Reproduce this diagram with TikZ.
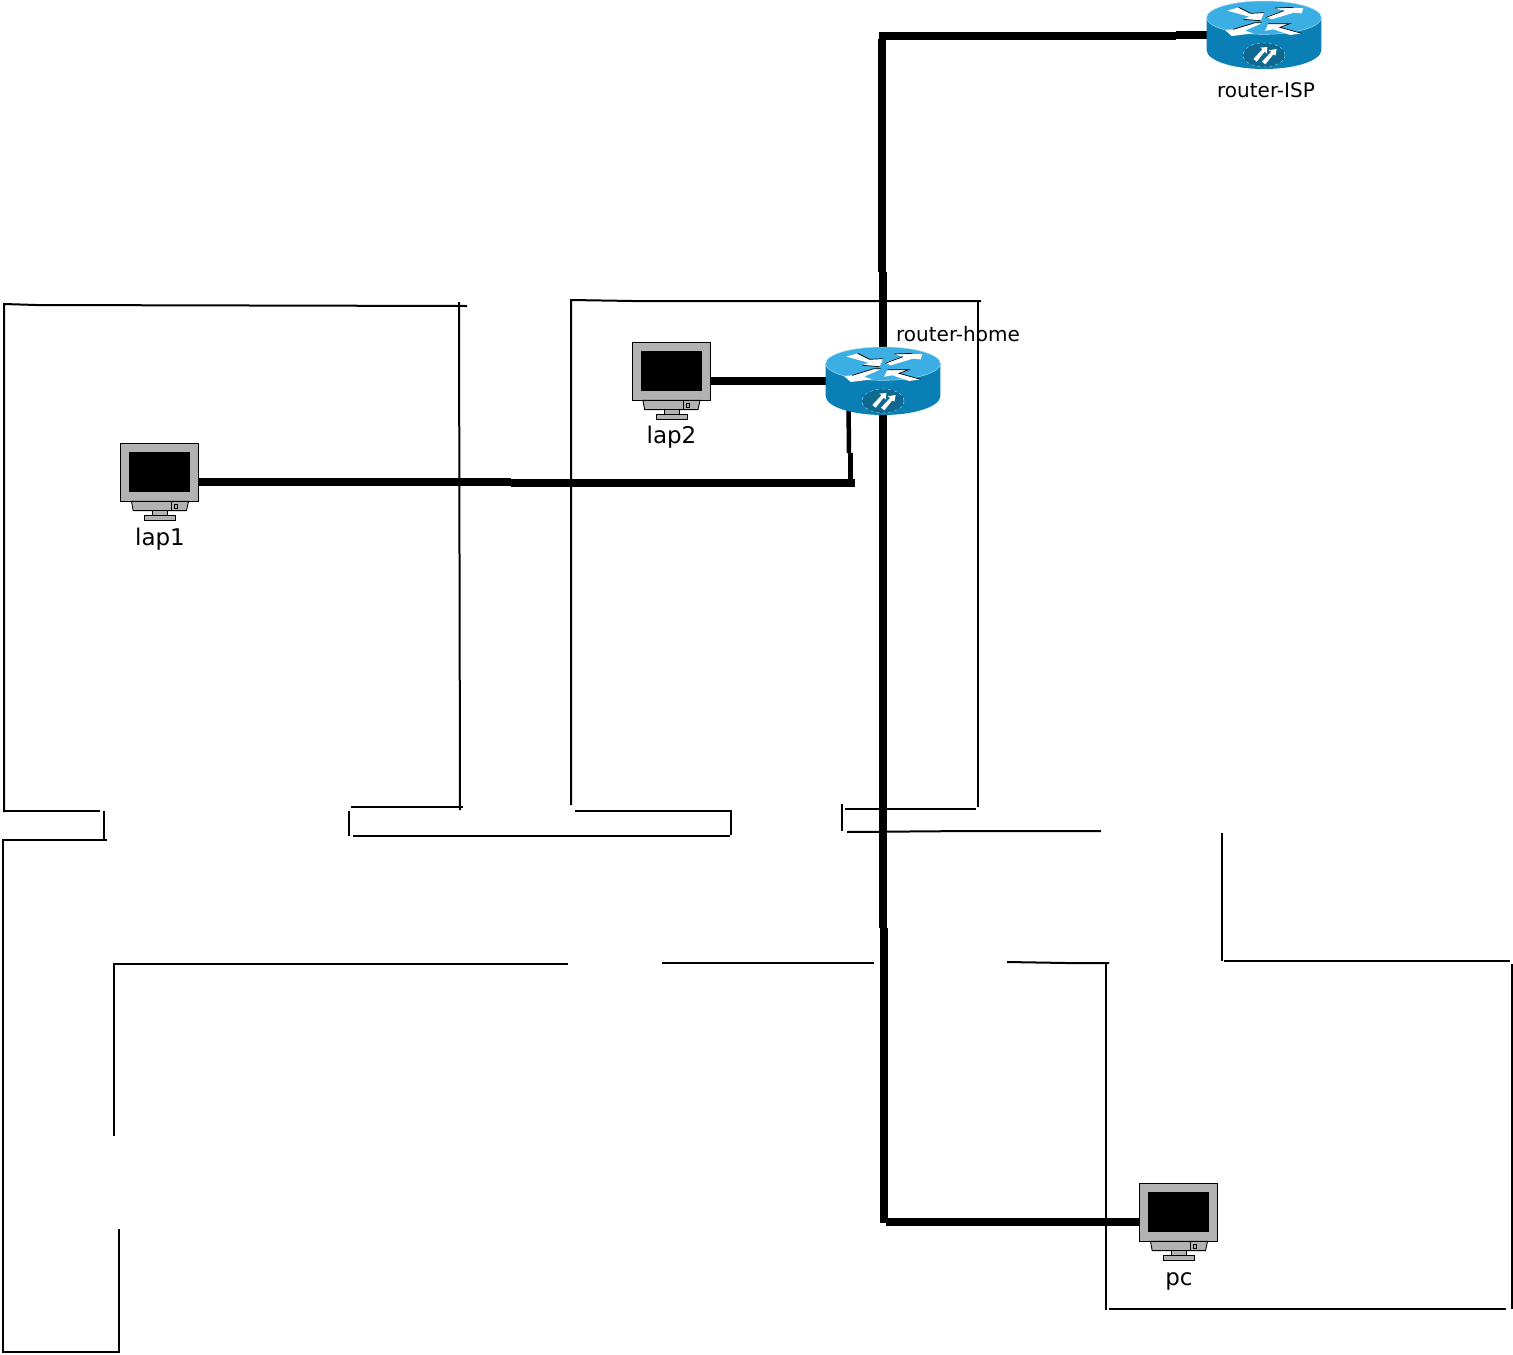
\documentclass[tikz,border=0pt]{standalone}
\usepackage{fontspec}
\setmainfont{DejaVu Sans}
\tikzset{
  wall/.style={draw=black,line width=2pt},
  cable/.style={draw=black,line width=8pt},
  cablethin/.style={draw=black,line width=4.5pt},
  routerbox/.style={minimum width=115pt,minimum height=68pt,inner sep=0pt,outer sep=0pt},
  compbox/.style={minimum width=78pt,minimum height=78pt,inner sep=0pt,outer sep=0pt},
  smalllabel/.style={font=\fontsize{20pt}{22pt}\selectfont,inner sep=0pt,anchor=base,text=black},
  biglabel/.style={font=\fontsize{23pt}{25pt}\selectfont,inner sep=0pt,anchor=base,text=black},
  icon/.style={x=0.33333pt,y=-0.33333pt},
  case/.style={draw=black,line width=0.9pt,fill=black!30}
}
\definecolor{rtop}{HTML}{3BAEE3}
\definecolor{rside}{HTML}{0A7FB5}
\definecolor{rbadge}{HTML}{0F6890}
\definecolor{rline}{HTML}{9AD8F2}
\newcommand{\routericon}[1]{%
\begin{scope}[shift={(#1.center)},icon]
  \fill[rside] (-172,-52) -- (-172,45) arc[start angle=180,end angle=0,x radius=172,y radius=57] -- (172,-52) -- cycle;
  \fill[rtop,draw=rline,line width=0.5pt] (0,-52) ellipse[x radius=172,y radius=50];
  \fill[rbadge,draw=rline,line width=0.4pt,dashed] (0,60) ellipse[x radius=63,y radius=36];
  \begin{scope}[shift={(-222,-105)}]
    \fill[white] (112,32) -- (146,22) -- (182,40) -- (222,38) -- (212,62) -- (160,58) -- (178,50) -- cycle;
    \fill[white] (228,50) -- (282,32) -- (255,24) -- (340,24) -- (335,40) -- (312,38) -- (245,58) -- cycle;
    \fill[white] (215,70) -- (165,92) -- (190,100) -- (125,108) -- (105,90) -- (130,88) -- (195,68) -- cycle;
    \fill[white] (225,92) -- (235,72) -- (300,72) -- (270,82) -- (335,100) -- (300,105) -- (250,88) -- cycle;
    \draw[black,line width=0.7pt] (146,22) -- (182,40) -- (222,38);
    \draw[black,line width=0.7pt] (160,58) -- (212,62);
    \draw[black,line width=0.7pt] (255,24) -- (310,22) (228,52) -- (282,32);
    \draw[black,line width=0.7pt] (130,88) -- (195,68) -- (215,68);
    \draw[black,line width=0.7pt] (235,71) -- (300,71) -- (270,82) -- (335,100);
  \end{scope}
  \fill[white] (-32,72) -- (-4,42) -- (-12,38) -- (10,36) -- (8,56) -- (2,50) -- (-22,80) -- cycle;
  \fill[white] (-6,80) -- (22,50) -- (14,46) -- (38,42) -- (34,62) -- (28,58) -- (4,88) -- cycle;
\end{scope}}
\newcommand{\compicon}[1]{%
\begin{scope}[shift={(#1.center)},icon]
  \path[case] (-117,-116) rectangle (118,58);
  \fill[black] (-91,-90) rectangle (92,30);
  \path[case] (-84,58) -- (87,58) -- (81,86) -- (-79,86) -- cycle;
  \draw[black,line width=0.9pt] (36,58) -- (36,86);
  \draw[black,line width=0.9pt,fill=black!30] (45,67) rectangle (55,79);
  \path[case] (-21,86) rectangle (24,99);
  \path[case] (-45,99) rectangle (49,116);
\end{scope}}
\begin{document}
\begin{tikzpicture}[x=1pt,y=-1pt]
\useasboundingbox (0,0) rectangle (1513,1355);
\fill[white] (0,0) rectangle (1513,1355);
% devices (anchors)
\node[routerbox] (isp) at (1264,35) {};
\node[routerbox] (home) at (883,381) {};
\node[compbox] (lapA) at (159.5,482) {};
\node[compbox] (lapB) at (671,381) {};
\node[compbox] (pc) at (1178.5,1222) {};
\coordinate (ispjogA) at (1176,35);
\coordinate (ispjogB) at (1176,36);
\coordinate (ispbend) at (879,36);
\coordinate (downtop) at (882,39);
\coordinate (downjogA) at (882,272);
\coordinate (downjogB) at (883,272);
\coordinate (lowjogA) at (883,928);
\coordinate (lowjogB) at (884,928);
\coordinate (lowend) at (884,1222.5);
\coordinate (pcstart) at (886,1222);
\coordinate (lapAmid) at (511,482);
\coordinate (lapAmidB) at (511,483);
\coordinate (lapAend) at (855,483);
\coordinate (homeport) at (848.5,405);
\coordinate (branchjogA) at (849,453);
\coordinate (branchjogB) at (850.5,453);
\coordinate (branchfoot) at (850.5,483);
% walls
\draw[wall] (4,812) -- (4,304) -- (36,305) -- (467,306);
\draw[wall] (459,302) -- (460,810);
\draw[wall] (4,811) -- (100,811);
\draw[wall] (104,811) -- (104,839);
\draw[wall] (107,840) -- (3,840) -- (3,1352) -- (119,1352) -- (119,1229);
\draw[wall] (114,1136) -- (114,964) -- (568,964);
\draw[wall] (662,963) -- (874,963);
\draw[wall] (1007,962) -- (1066,963) -- (1109,963);
\draw[wall] (1106,963) -- (1106,1310);
\draw[wall] (1109,1309) -- (1506,1309);
\draw[wall] (1512,964) -- (1512,1309);
\draw[wall] (1224,961) -- (1510,961);
\draw[wall] (1222,833) -- (1222,961);
\draw[wall] (847,832) -- (970,831) -- (1101,831);
\draw[wall] (842,804) -- (842,831);
\draw[wall] (845,809) -- (976,809);
\draw[wall] (978,301) -- (978,807);
\draw[wall] (571,805) -- (571,300) -- (633,301) -- (981,301);
\draw[wall] (575,811) -- (732,811);
\draw[wall] (731,811) -- (731,835);
\draw[wall] (353,836) -- (730,836);
\draw[wall] (349,811) -- (349,836);
\draw[wall] (351,807) -- (463,807);
% cables
\draw[cable] (isp.west) -- (ispjogA);
\draw[cable] (ispjogB) -- (ispbend);
\draw[cable] (downtop) -- (downjogA);
\draw[cable] (downjogB) -- (home.north);
\draw[cable] (home.south) -- (lowjogA);
\draw[cable] (lowjogB) -- (lowend);
\draw[cable] (pcstart) -- (pc.west);
\draw[cable] (lapB.east) -- (home.west);
\draw[cable] (lapA.east) -- (lapAmid);
\draw[cable] (lapAmidB) -- (lapAend);
\draw[cablethin] (homeport) -- (branchjogA);
\draw[cablethin] (branchjogB) -- (branchfoot);
% icons
\routericon{isp}
\routericon{home}
\compicon{lapA}
\compicon{lapB}
\compicon{pc}
% labels
\node[smalllabel] (ispl) at (1266,97) {router-ISP};
\node[smalllabel] (homel) at (958,341) {router-home};
\node[biglabel] (lapAl) at (160,545) {lap1};
\node[biglabel] (lapBl) at (671.5,443) {lap2};
\node[biglabel] (pcl) at (1179,1285) {pc};
\end{tikzpicture}
\end{document}
